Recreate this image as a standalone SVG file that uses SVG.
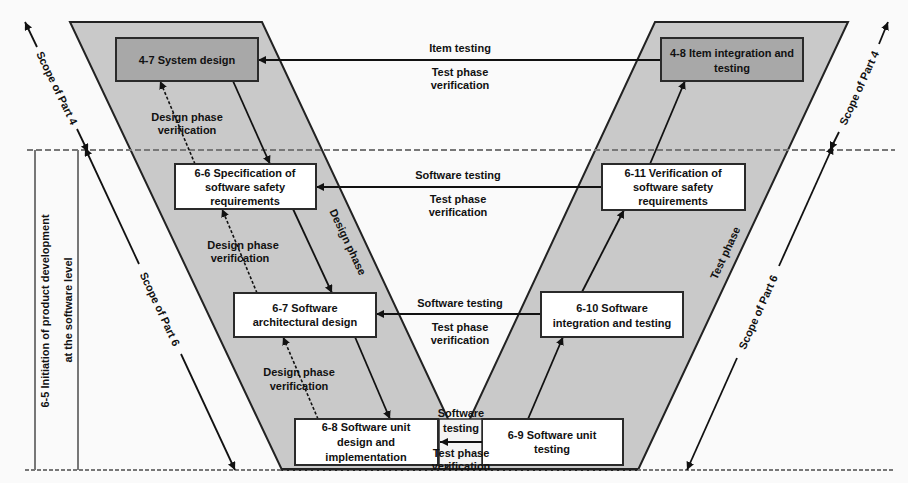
<svg xmlns="http://www.w3.org/2000/svg" width="908" height="483" viewBox="0 0 908 483">
<defs>
<marker id="ah" viewBox="0 0 10 10" refX="10" refY="5" markerWidth="8" markerHeight="8" markerUnits="userSpaceOnUse" orient="auto-start-reverse">
<path d="M0,0 L10,5 L0,10 z" fill="#111"/>
</marker>
<style>
.t{font-family:"Liberation Sans",Arial,sans-serif;font-size:11px;font-weight:bold;fill:#111;text-anchor:middle}
.para{fill:#c9c9c9;stroke:#222;stroke-width:2}
.box{fill:#fff;stroke:#2a2a2a;stroke-width:2}
.dbox{fill:#a8a8a8;stroke:#2a2a2a;stroke-width:2}
.ln{stroke:#111;stroke-width:1.8;fill:none}
.dl{stroke:#111;stroke-width:1.6;fill:none;stroke-dasharray:3 2}
.grid{stroke:#777;stroke-width:2;fill:none}
</style>
</defs>
<rect x="0" y="0" width="908" height="483" fill="#fafafa"/>

<g id="background">
<polygon class="para" points="70,22 262,22 472,470 282,470"/>
<polygon class="para" points="655,22 848,22 638,470 446,470"/>
<line class="grid" x1="27" y1="150" x2="895" y2="150" stroke-dasharray="6 3"/>
<line class="grid" x1="25" y1="470" x2="895" y2="470" stroke-dasharray="4 2"/>
<line x1="282" y1="469" x2="638" y2="469" stroke="#222" stroke-width="2"/>
<line class="grid" x1="35" y1="150" x2="35" y2="470"/>
<line class="grid" x1="78" y1="150" x2="78" y2="470"/>
<text class="t" transform="translate(49,311) rotate(-90)">6-5 Initiation of product development</text>
<text class="t" transform="translate(72,310) rotate(-90)">at the software level</text>
<text class="t" transform="translate(348,242) rotate(64.9)" dy="4">Design phase</text>
<text class="t" transform="translate(725,253) rotate(-65)" dy="4">Test phase</text>
</g>

<g id="scopes">
<line class="ln" x1="37" y1="47" x2="25" y2="22" marker-end="url(#ah)"/>
<line class="ln" x1="77" y1="129" x2="88" y2="152" marker-end="url(#ah)"/>
<text class="t" transform="translate(57,88) rotate(64.1)" dy="4">Scope of Part 4</text>
<line class="ln" x1="139" y1="264" x2="85" y2="148" marker-end="url(#ah)"/>
<line class="ln" x1="181" y1="354" x2="235" y2="470" marker-end="url(#ah)"/>
<text class="t" transform="translate(160,309) rotate(65)" dy="4">Scope of Part 6</text>
<line class="ln" x1="879" y1="44" x2="888" y2="22" marker-end="url(#ah)"/>
<line class="ln" x1="839" y1="132" x2="830" y2="150" marker-end="url(#ah)"/>
<text class="t" transform="translate(859,88) rotate(-65.6)" dy="4">Scope of Part 4</text>
<line class="ln" x1="779" y1="266" x2="833" y2="146" marker-end="url(#ah)"/>
<line class="ln" x1="737" y1="358" x2="687" y2="470" marker-end="url(#ah)"/>
<text class="t" transform="translate(758,312) rotate(-65.7)" dy="4">Scope of Part 6</text>
</g>

<g id="connectors">
<line class="ln" x1="661" y1="60" x2="258" y2="60" marker-end="url(#ah)"/>
<line class="ln" x1="602" y1="187" x2="316" y2="187" marker-end="url(#ah)"/>
<line class="ln" x1="541" y1="314" x2="376" y2="314" marker-end="url(#ah)"/>
<line class="ln" x1="233" y1="81" x2="270" y2="164" marker-end="url(#ah)"/>
<line class="ln" x1="293" y1="209" x2="332" y2="293" marker-end="url(#ah)"/>
<line class="ln" x1="355" y1="337" x2="390" y2="419" marker-end="url(#ah)"/>
<line class="ln" x1="528" y1="419" x2="563" y2="337" marker-end="url(#ah)"/>
<line class="ln" x1="582" y1="292" x2="624" y2="210" marker-end="url(#ah)"/>
<line class="ln" x1="650" y1="164" x2="685" y2="81" marker-end="url(#ah)"/>
<line class="dl" x1="195" y1="164" x2="160" y2="81" marker-end="url(#ah)"/>
<line class="dl" x1="257" y1="293" x2="222" y2="209" marker-end="url(#ah)"/>
<line class="dl" x1="318" y1="419" x2="283" y2="337" marker-end="url(#ah)"/>
<text class="t" x="460" y="52">Item testing</text>
<text class="t" x="460" y="76">Test phase</text>
<text class="t" x="460" y="89">verification</text>
<text class="t" x="458" y="179">Software testing</text>
<text class="t" x="458" y="203">Test phase</text>
<text class="t" x="458" y="216">verification</text>
<text class="t" x="460" y="307">Software testing</text>
<text class="t" x="460" y="331">Test phase</text>
<text class="t" x="460" y="344">verification</text>
<text class="t" x="187" y="121">Design phase</text>
<text class="t" x="187" y="134">verification</text>
<text class="t" x="243" y="249">Design phase</text>
<text class="t" x="240" y="262">verification</text>
<text class="t" x="299" y="376">Design phase</text>
<text class="t" x="299" y="390">verification</text>
</g>

<g id="n47">
<rect class="dbox" x="116" y="38" width="142" height="43"/>
<text class="t" x="187" y="64">4-7 System design</text>
</g>
<g id="n48">
<rect class="dbox" x="661" y="38" width="142" height="43"/>
<text class="t" x="732" y="57">4-8 Item integration and</text>
<text class="t" x="732" y="72">testing</text>
</g>
<g id="n66">
<rect class="box" x="175" y="164" width="141" height="45"/>
<text class="t" x="245" y="177">6-6 Specification of</text>
<text class="t" x="245" y="191">software safety</text>
<text class="t" x="245" y="205">requirements</text>
</g>
<g id="n611">
<rect class="box" x="602" y="164" width="143" height="46"/>
<text class="t" x="673" y="177">6-11 Verification of</text>
<text class="t" x="673" y="191">software safety</text>
<text class="t" x="673" y="205">requirements</text>
</g>
<g id="n67">
<rect class="box" x="234" y="293" width="142" height="44"/>
<text class="t" x="305" y="312">6-7 Software</text>
<text class="t" x="305" y="326">architectural design</text>
</g>
<g id="n610">
<rect class="box" x="541" y="292" width="142" height="45"/>
<text class="t" x="612" y="312">6-10 Software</text>
<text class="t" x="612" y="327">integration and testing</text>
</g>
<g id="n68">
<rect class="box" x="295" y="419" width="143" height="46"/>
<text class="t" x="366" y="431">6-8 Software unit</text>
<text class="t" x="366" y="446">design and</text>
<text class="t" x="366" y="461">implementation</text>
</g>
<g id="n69">
<rect class="box" x="482" y="419" width="141" height="46"/>
<text class="t" x="552" y="439">6-9 Software unit</text>
<text class="t" x="552" y="453">testing</text>
</g>
<g id="bottom-link">
<rect x="439" y="419" width="43" height="46" fill="#f4f4f4" stroke="#2a2a2a" stroke-width="1.5"/>
<text class="t" x="461" y="417">Software</text>
<text class="t" x="461" y="432">testing</text>
<line class="ln" x1="482" y1="442" x2="440" y2="442" marker-end="url(#ah)"/>
<text class="t" x="461" y="457">Test phase</text>
<text class="t" x="461" y="470">verification</text>
</g>
</svg>
